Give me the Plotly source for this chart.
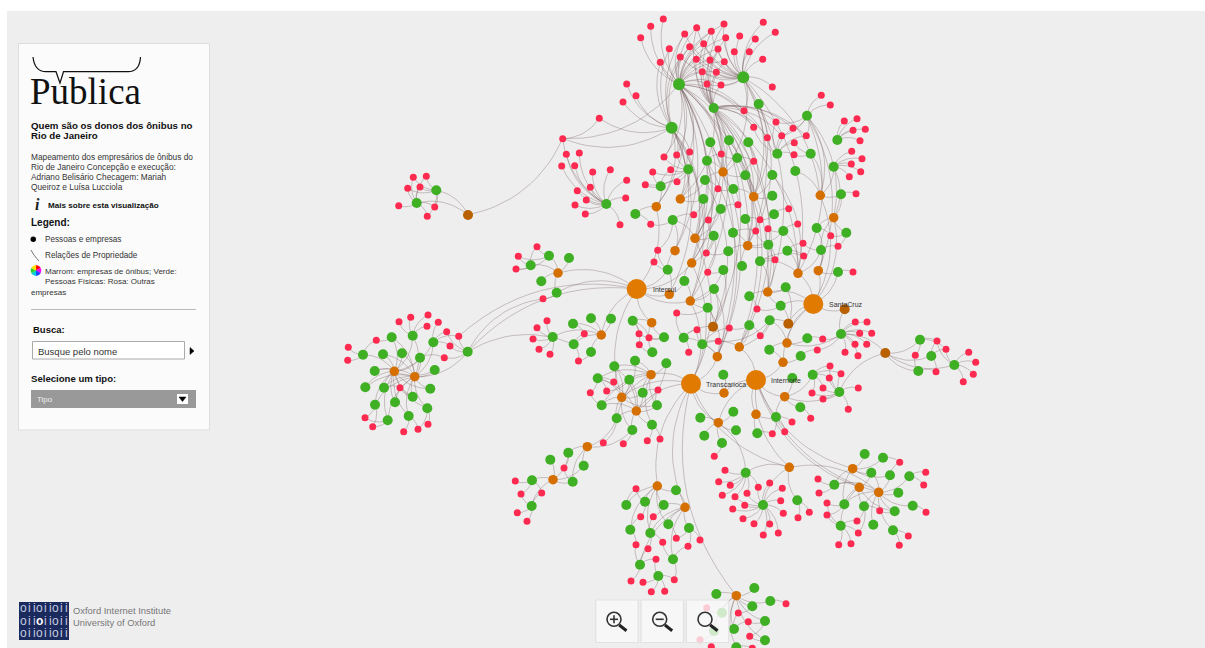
import math
import plotly.graph_objects as go

# ---------- nodes (positions) ----------
green_top = [(679,84.3),(743.3,77.3),(713.7,108),(758.7,104),(807,115.7),(671.7,127.7),(710.3,142.3),(729,140.3),(748.3,142.3),(777.3,153.7),
 (810.7,153.7),(837.3,140),(707,160.7),(737.3,158),(688.3,169.3),(745.3,175.3),(772.3,175),(795.3,171),(833.7,166.7),(705,180),
 (660.7,186.3),(733.3,189),(772.3,195.7),(841,194.3),(703.3,199),(606.3,204),(720.7,209)]
green_mid = [(635.3,214),(672.7,220),(745.3,219),(774,214.3),(713.7,235.7),(733,232.7),(783.3,231),(816.7,228),(846.3,232.7),(768.3,244.7),
 (728.3,251.3),(787.3,250.7),(821,250),(760,261.3),(742,266),(723.3,270),(667.7,269.7),(684.3,281),(838,272),(714,289),
 (785.7,287.3),(749.3,296.3),(780.7,305.7),(707.7,307.7),(769.7,320.3),(749.3,325.3),(632.7,320.7),(573,323.7),(591,318.3),(611,318.7),
 (552.7,337),(573.7,344.3),(591,352),(664,337.3),(683.7,337.7),(702.3,344.3),(807.3,338.3),(841,334),(652.3,352.3),(769.3,349.7),
 (800.7,356),(635,360.7),(666.3,363.3),(614.3,366.3),(597.7,378.3),(629.3,379.7),(642.7,392.7),(723.3,374.7),(792.3,378),(812.7,374.7),(839.3,392)]
green_west = [(436.3,190.3),(416.7,203),(549,255.7),(569,258),(530.7,265.3),(541.3,281.3),(556.7,292.7),(391.7,337.3),(412.7,335.7),(433.3,342.3),
 (363,354.7),(383,354.3),(402,353.3),(420,357.7),(467.7,351.7),(374.7,371),(434.7,370),(365.3,387.3),(384,387.7),(430.3,388.7),
 (412.7,396.7),(395,402.3),(375,404.7),(427.3,408.3),(408.7,416),(387.7,420.3),(722,612.7)]
green_south = [(601.7,405.3),(657,405.3),(616.7,418.3),(632.3,430),(652,424.7),(568.3,452.7),(550.3,459.7),(583.7,465.7),(532,480.3),(572.7,481.7),
 (531.7,506),(676,490.3),(626.3,505),(645,501.7),(663.7,505),(668.3,524.3),(630.3,529.7),(650.3,533),(689,528),(640,564.7),
 (673,559.3),(658.3,576),(700.3,417.7),(733.3,411.7),(736,430.3),(704.3,435.7),(722,443),(776,417),(757.3,433.3),(800.3,407.3),
 (745.7,472.7),(763,505),(797.3,500.3),(716.3,594),(754.3,588),(752.3,606.3),(770.3,601),(765,621),(734,629),(765,640.3),(736.3,647.3)]
green_east = [(834.3,484.7),(844.3,504.3),(840.7,525.7),(864.7,454),(883,457.7),(871.3,472.7),(890,475.3),(909.3,476.3),(898.3,492.7),(912.7,505.7),
 (864,506.3),(894.7,511.3),(873.3,524.7),(893,530.3),(920,339.7),(931.3,356),(918.3,371),(954.3,365),(714,631)]
big_green_ids = [1, 2, 6]

orange_nodes = [(723,172),(753.7,196.7),(820.3,195.3),(680.3,199),(656.3,206.7),(833.7,217.7),(695,238.3),(747.7,245.7),(675,250.7),(691.7,263),
 (798,273.3),(818.3,270.7),(558,273),(767.7,292),(669.3,294.3),(690.3,301),(651.7,322.7),(601.3,335),(739.3,347),(787,343),
 (717.3,356.7),(783,362.3),(651,374.7),(724,393),(784.7,396.7),(621.7,397.3),(394.3,371.3),(414.7,376.7),(636.3,411),(587.3,446.7),
 (553,479.7),(657.3,486),(685,507.3),(718.3,422.7),(756,414.3),(789.3,467.3),(736.3,595.7),(852.7,468.7),(859.3,487.3),(878.7,492.3)]
brown_nodes = [(713,326.7),(788.3,323.7),(844.7,309.3),(468,215),(885.3,353)]
big_nodes = [(636.7,289),(813.3,304),(691,383.7),(756,380)]
big_names = ["Intersul", "SantaCruz", "Transcarioca", "Internorte"]
big_label_x = [653, 829, 706, 771]
big_label_y = [289, 304, 384.5, 380.5]
loose_reds = {"ra": (562.7,138.7), "rb": (599.3,118.3), "rc": (458.7,336.3)}

# reds, grouped by the persons (green ids) that hold them
reds_top = [
 ((1,2,3), [(696.7,27.7),(711.3,31.3),(724,24),(725.7,37.7),(703.7,43.7),(718,49),(696.3,59.3),(710,60),(724.3,61.7),(702.3,71.7),(716.3,72.3),(707,84),(721,85)]),
 ((1,2,6), [(684.7,34),(689.7,46.7),(680.3,57)]),
 ((1,), [(663.3,19),(650.7,26.3),(640.7,37.7)]),
 ((1,6), [(669.3,48.7),(660.3,62.3)]),
 ((2,), [(739.7,36),(763.3,22.3),(775.3,32.3),(755.3,39),(734.3,51.7),(749.3,51.7),(762.7,59.3),(772.3,87)]),
 ((6,), [(626.7,84),(636,95.7),(623,102)]),
 ((3,2,1), [(744,110.7)]),
 ((5,10,3), [(776,122),(793,128.3),(806.3,135.7),(781.7,135.7)]),
 ((3,10,1), [(753.7,127.3),(767.3,137.7)]),
 ((10,11), [(794.3,142.7),(794,154.7)]),
 ((5,), [(821.3,95.3),(830.3,105)]),
 ((12,), [(844.3,121),(857,118.7),(853,130.3),(865.3,129.3),(860,140.7)]),
 ((19,), [(851.7,151.3),(862,158.7),(851.3,164),(860.7,171.7),(849.3,176.7)]),
 ((24,), [(856,193.7)]),
]
reds_left = [
 ((26,), [(566.3,154.3),(579.3,153),(561.7,166),(574.7,165.7),(592.7,172),(610.3,169.7),(590.3,187.3),(577.3,190.7),(586.3,200),(575,205),(585.3,214),(620,224.7),(626.7,180.3),(625.7,198)]),
 ((15,6,1), [(664,157),(676.7,155),(689.7,152)]),
 ((21,15), [(652.7,172),(670.7,169.7),(645.3,184.7),(677,181.7)]),
 ((13,14,1), [(721.3,154)]),
 ((14,16,3), [(753.7,161.3)]),
 ((20,22), [(718,188.7)]),
 ((22,27), [(738,204.7)]),
 ((31,), [(788.7,208.7)]),
 ((25,29), [(693.7,214.7)]),
 ((32,27), [(708.3,220)]),
 ((28,29), [(650.7,224.3)]),
 ((30,31), [(760,219.7)]),
]
reds_mid = [
 ((34,), [(797.7,224)]),
 ((34,37), [(768,228.7)]),
 ((33,37), [(755.7,231)]),
 ((35,36), [(830.7,235.7)]),
 ((39,40), [(803,243.3)]),
 ((36,40), [(838,246.3)]),
 ((39,41), [(803.7,256)]),
 ((37,41), [(775,259.7)]),
 ((44,29), [(657.7,250.3)]),
 ((32,38), [(706.3,253)]),
 ((44,), [(654,262)]),
 ((43,32), [(707.7,272.3)]),
 ((46,), [(853,272)]),
 ((50,49), [(757,309)]),
 ((51,62), [(676.7,313)]),
 ((62,63), [(697,329.7)]),
 ((53,63), [(729.3,328)]),
 ((52,53), [(760.3,335.7)]),
 ((63,52), [(718.3,341.3)]),
 ((62,), [(688.7,352.3)]),
 ((54,61), [(639,333.7),(649,337.7)]),
 ((66,54), [(639.3,344.7)]),
 ((58,), [(547,320.7),(537,327.7),(533,339),(539,349.3),(550,354.3)]),
 ((59,55), [(584.3,333.7)]),
 ((60,59), [(578.5,361)]),
 ((65,), [(855.3,322),(867,322),(859.7,333.3),(871.7,333.3),(855,344.3),(866.7,344.3),(845,352.3),(858,355.7)]),
 ((64,65), [(822.7,339)]),
 ((68,65), [(817.3,350)]),
 ((77,78), [(830,366),(841,373.7),(829.3,378),(823,388),(812,393)]),
 ((78,), [(823,399),(858.3,388),(848.3,409.3)]),
 ((85,93), [(543,298.7)]),
 ((81,83), [(537,246.7),(518.3,256.3),(516,269)]),
]
reds_west = [
 ((79,80), [(413.3,177.3),(426.3,176.3),(407.7,188.3),(420,187),(434.7,207),(427.3,216.3)]),
 ((80,), [(398.7,205.7)]),
 ((87,), [(428,315),(427,326.3),(410.7,317.3),(399,321.7)]),
 ((88,), [(438.3,322.3)]),
 ((88,93), [(446.7,331.7),(450,346)]),
 ((93,92), [(444.3,357.7)]),
 ((86,89), [(376.3,340.3)]),
 ((89,), [(348.3,347.3),(347.7,360.3)]),
 ((97,99), [(400,387.7)]),
 ((104,101), [(365,417.7),(372.7,426.7)]),
 ((103,), [(403.7,431.7)]),
 ((103,102), [(418,429.3)]),
 ((102,), [(428,424.3)]),
]
reds_south = [
 ((71,72), [(613.7,382)]),
 ((72,73), [(606.7,391)]),
 ((72,106), [(590.3,392.7)]),
 ((74,107), [(658,390)]),
 ((108,), [(603.3,442.7)]),
 ((109,), [(623.3,443.7)]),
 ((110,), [(647.3,440.7),(660,439)]),
 ((111,115), [(564,468)]),
 ((114,), [(515.3,481)]),
 ((114,116), [(521,494),(541.7,493)]),
 ((116,), [(517.3,512.7),(527,521.3)]),
 ((118,119), [(636,488.7)]),
 ((119,122), [(640.7,516.7)]),
 ((120,123), [(653.3,516.7)]),
 ((121,124), [(676.3,538.3)]),
 ((122,125), [(636,544.7)]),
 ((123,125), [(648,548.7)]),
 ((123,126), [(662.7,542.3)]),
 ((124,126), [(688,546.3)]),
 ((125,127), [(656,559.3)]),
 ((125,), [(631,581)]),
 ((127,), [(643,582.3),(651.3,591.7),(664.7,591.3)]),
 ((126,127), [(674.3,579.7)]),
 ((124,), [(700,540)]),
 ((142,), [(786,603.7)]),
 ((141,144), [(738.3,613)]),
 ((143,144), [(748.3,621.7)]),
 ((143,145), [(749.7,636.3)]),
 ((146,), [(711.3,646.7),(752.3,648.3)]),
 ((105,), [(706.7,607.7)]),
 ((165,), [(700,639.7)]),
 ((132,), [(714.3,456.3)]),
 ((133,134), [(772.3,433.7)]),
 ((133,), [(784.7,431.7),(792,422)]),
 ((135,), [(810.7,418.3)]),
]
reds_se = [
 ((136,), [(725,470.3),(718.7,481.7),(730.3,485.3),(722.3,495.3)]),
 ((136,137), [(735,496.7),(747,493.3),(758.3,487.3)]),
 ((137,), [(769.7,483),(782.3,488.3),(780.7,500.7),(732.7,509),(744.7,505.3),(743,518.7),(754,523.7),(769.7,524),(763.3,535),(778.3,533),(783.3,513.3)]),
 ((138,), [(798,517.7),(809.3,512.3)]),
 ((147,), [(818,479),(819,493)]),
 ((148,149), [(827,503),(827,515)]),
 ((149,157), [(857,521),(858.3,533)]),
 ((149,), [(838.7,544.7),(851,543.7)]),
 ((157,158), [(879.7,510.7)]),
 ((160,), [(908.3,536),(899.3,545.3)]),
 ((151,153), [(899.7,462.3)]),
 ((154,), [(925.7,472.3),(923.7,485)]),
 ((156,), [(926,512.3)]),
 ((161,162,164), [(937,341),(946,349.3)]),
 ((161,163), [(915.3,355.3)]),
 ((163,162), [(936,371.7)]),
 ((164,), [(968.7,352.3),(975.7,362.3),(973.3,374.3),(963.3,381.7)]),
]
red_groups = reds_top + reds_left + reds_mid + reds_west + reds_south + reds_se

# ownership: target <- sources
links_north = [
 ("ra","g1 g6 g26 rb"),("rb","g6"),("b4","ra g79 g80"),("rc","g88 g93"),
 ("o1","g13 g14 g16 g20 g22 g3 g1 g2"),("o2","g16 g17 g23 g22 g9 g2 g3 g1 g4"),("o3","g11 g19 g24 g18 g5 g2"),
 ("o4","g15 g20 g25 g6 g1 g3"),("o5","g21 g28 g6 g1"),("o6","g19 g35 g36 g24 g40 g5"),
 ("o7","g25 g27 g32 g29 g1 g3 g6 g7"),("o8","g30 g33 g34 g37 g38 g42 g3 g2 g1 g4 g8"),("o9","g44 g29 g6 g1"),
 ("o10","g45 g32 g6 g1 g3 g13"),("o11","g39 g34 g40 g41 g17 g3 g2 g5"),("o12","g35 g40 g46 g5"),
 ("o14","g48 g49 g50 g37 g41 g3 g1 g2"),("o15","g44 g45 g6"),("o16","g45 g47 g51 g43 g1 g6 g3"),
]
links_centre = [
 ("o13","g81 g82 g83 g84 g85"),("o17","g54 g61 g66"),("o18","g55 g56 g57 g58 g59 g60"),("o19","g52 g53 g63 g3 g9 g14"),
 ("o20","g52 g64 g67 g65"),("o21","g63 g62 g51 g47 g1 g7 g13"),("o22","g67 g68"),("o24","g75"),("o25","g76 g77 g78 g135 g133"),
 ("b1","g51 g62 g47 g43 g3 g20"),("b2","g48 g50 g52"),("b3","g65"),
 ("o23","g69 g70 g71 g72 g73 g74 g106 g107 g108 g110"),("o26","g69 g71 g72 g73 g74 g106 g107 g108 g109"),
 ("o29","g70 g71 g72 g73 g74 g106 g107 g108 g109 g110"),
]
links_outer = [
 ("o27","g86 g87 g88 g89 g90 g91 g92 g94 g95 g96 g97 g98 g99 g100 g101 g102 g103 g104"),
 ("o28","g86 g87 g88 g90 g91 g92 g93 g94 g95 g96 g97 g98 g99 g100 g101 g102 g103 g104"),
 ("g59","g93"),
 ("o30","g111 g113 g115 g108 g109"),("o31","g111 g112 g113 g114 g115 g116"),
 ("o32","g117 g118 g119 g120 g121 g122 g123"),("o33","g117 g120 g121 g124 g123 g126 g125"),
 ("o37","g139 g140 g141 g142 g143 g144 g145 g146 g105 g165"),
 ("o34","g128 g129 g130 g131 g132"),("o35","g133 g134"),("g136","o34"),
 ("o36","g136 g137 g138"),("o38","g147 g148 g150 g151 g152 g153"),
 ("o39","g147 g148 g149 g152 g157 g158"),("o40","g148 g152 g153 g154 g155 g156 g157 g158 g159 g160 g147 o36"),
 ("b5","g161 g162 g163 g164 g65 g78"),
 ("h1","o13 g85 g93 rc o15 o17 o18 o26 o10 o16 g44 o5"),("h2","o11 o12 b3 o14 o20 b2 o22 g50 g46 o3 o6"),
 ("h3","o26 o23 o24 o21 o34 o32 o33 o29 o37 o36 o16 o7 o10"),("h4","o35 o34 o25 o24 o36 o38 o39 o40 o19 o22"),
]
links = links_north + links_centre + links_outer

# ---------- node lookup ----------
greens = green_top + green_mid + green_west + green_south + green_east
pos = {f"g{i+1}": p for i, p in enumerate(greens)}
pos.update({f"o{i+1}": p for i, p in enumerate(orange_nodes)})
pos.update({f"b{i+1}": p for i, p in enumerate(brown_nodes)})
pos.update({f"h{i+1}": p for i, p in enumerate(big_nodes)})
pos.update(loose_reds)

edge_pairs = []
reds = list(loose_reds.values())
for hubs, pts in red_groups:
    for p in pts:
        reds.append(p)
        for h in hubs:
            edge_pairs.append((pos[f"g{h}"], p))
for target, sources in links:
    for s in sources.split():
        edge_pairs.append((pos[s], pos[target]))

EDGE = "rgba(112,84,88,0.33)"
fig = go.Figure()
for (x1, y1), (x2, y2) in edge_pairs:
    cx, cy = (x1 + x2) / 2 + (y2 - y1) / 4, (y1 + y2) / 2 + (x1 - x2) / 4
    ts = [i / 14 for i in range(15)]
    fig.add_trace(go.Scatter(
        x=[(1-t)**2*x1 + 2*(1-t)*t*cx + t*t*x2 for t in ts],
        y=[(1-t)**2*y1 + 2*(1-t)*t*cy + t*t*y2 for t in ts],
        mode="lines", line=dict(color=EDGE, width=1), hoverinfo="skip", showlegend=False))

def nodes(points, color, size):
    fig.add_trace(go.Scatter(x=[p[0] for p in points], y=[p[1] for p in points], mode="markers",
                             marker=dict(color=color, size=size, line=dict(width=0)),
                             hoverinfo="skip", showlegend=False))

nodes(reds, "#FF2A50", 7)
nodes([g for i, g in enumerate(greens) if i + 1 not in big_green_ids], "#3FAF24", 10)
nodes([greens[i - 1] for i in big_green_ids], "#3FAF24", 12)
nodes(orange_nodes, "#D46F00", 9.5)
nodes(brown_nodes, "#B96000", 10)
nodes(big_nodes, "#E07A00", 20)

# ---------- page furniture ----------
shapes = [dict(type="rect", x0=7, y0=11, x1=1205, y1=648, fillcolor="#EEEEEE", line_width=0, layer="below")]
ann = []

def rect(x0, y0, x1, y1, fill, line="rgba(0,0,0,0)", w=1):
    shapes.append(dict(type="rect", x0=x0, y0=y0, x1=x1, y1=y1, fillcolor=fill, line=dict(color=line, width=w)))

def path(d, color="#000", w=1.0, fill=None):
    s = dict(type="path", path=d, line=dict(color=color, width=w))
    if fill:
        s["fillcolor"] = fill
    shapes.append(s)

def note(x, y, text, size, color="#222", family="Liberation Sans", anchor="left"):
    ann.append(dict(x=x, y=y, text=text, showarrow=False, xanchor=anchor, yanchor="middle",
                    font=dict(size=size, color=color, family=family), borderpad=0, borderwidth=0))

for name, lx, ly in zip(big_names, big_label_x, big_label_y):
    note(lx, ly, name, 7, "#333")

rect(18.5, 43.5, 209.5, 430, "#FBFBFB", "#DDDDDD")
path("M33 57 C34 66,38 71.7,46 71.7 L56 71.7 L60 83 L63.5 71.7 L128 71.7 C136 71.7,140 66,140.5 57", "#111", 1.2)
note(30, 91, "Publica", 37, "#111", "Liberation Serif")
note(31, 125, "<b>Quem são os donos dos ônibus no</b>", 9.7, "#111")
note(31, 135, "<b>Rio de Janeiro</b>", 9.7, "#111")
for yy, t in zip([157, 167, 177, 187], ["Mapeamento dos empresários de ônibus do", "Rio de Janeiro Concepção e execução:",
                                        "Adriano Belisário Checagem: Mariah", "Queiroz e Luísa Lucciola"]):
    note(31, yy, t, 8.3, "#333")
note(35, 204, "<b><i>i</i></b>", 16, "#222", "Liberation Serif")
note(48, 205, "<b>Mais sobre esta visualização</b>", 8.1, "#111")
note(31, 222, "<b>Legend:</b>", 10, "#111")
shapes.append(dict(type="circle", x0=30.5, y0=236.5, x1=36, y1=242, fillcolor="#000", line_width=0))
note(45, 239.5, "Pessoas e empresas", 8.2, "#333")
path("M31 250 C33 254,36 258,39 261", "#555", 0.8)
note(45, 255.5, "Relações de Propriedade", 8.2, "#333")
wheel = ["#FF0000", "#FF00FF", "#2040FF", "#00D0E0", "#30D030", "#FFE000"]
for i, c in enumerate(wheel):
    a0, a1 = math.radians(i * 60 - 90), math.radians((i + 1) * 60 - 90)
    pts = [(36 + 5.2 * math.cos(a0 + (a1 - a0) * k / 4), 270.5 + 5.2 * math.sin(a0 + (a1 - a0) * k / 4)) for k in range(5)]
    path("M36 270.5 " + " ".join(f"L{x:.2f} {y:.2f}" for x, y in pts) + " Z", c, 0.2, c)
note(45, 271, "Marrom: empresas de ônibus; Verde:", 8, "#333")
note(45, 281, "Pessoas Físicas: Rosa: Outras", 8, "#333")
note(31, 292, "empresas", 8, "#333")
shapes.append(dict(type="line", x0=31, y0=309.5, x1=196, y1=309.5, line=dict(color="#BBBBBB", width=1)))
note(33, 329, "<b>Busca:</b>", 9.5, "#111")
rect(32.5, 341.5, 184.5, 359, "#FFFFFF", "#AAAAAA")
note(38, 351, "Busque pelo nome", 9.5, "#333")
path("M190 347.5 L194 351 L190 354.5 Z", "#000", 0.5, "#000")
note(31, 378, "<b>Selecione um tipo:</b>", 9.6, "#111")
rect(31, 390, 196, 408, "#999999")
note(37, 399.5, "Tipo", 8, "#EEEEEE")
rect(177, 394, 188, 404, "#FFFFFF")
path("M179 397 L186 397 L182.5 401.5 Z", "#000", 0.5, "#000")

# Oxford logo
rect(19, 602, 69, 640, "#1B2A5C")
logo_letters = ["o", "i", "i", "o", "i", "i", "o", "i", "i"]
logo_offsets = [23.5, 29.8, 34, 39.5, 45.8, 50, 55.5, 61.8, 66]
logo_rows = [608, 620.5, 633]
for row, yy in enumerate(logo_rows):
    for col, (ch, xx) in enumerate(zip(logo_letters, logo_offsets)):
        hi = row == 1 and col == 3
        note(xx, yy, f"<b>{ch}</b>" if hi else ch, 12, "#FFFFFF" if hi else "#C4CCE2", "Liberation Sans", "center")
note(73, 610, "Oxford Internet Institute", 9.4, "#777777")
note(73, 622, "University of Oxford", 9.4, "#777777")

# zoom buttons (translucent, the graph shows through)
for x0 in (595.7, 641, 686.3):
    rect(x0, 600, x0 + 42.5, 642.5, "rgba(250,250,250,0.78)", "#E2E2E2", 1.2)
for cx in (614, 659.7, 705):
    shapes.append(dict(type="circle", x0=cx - 7, y0=612.3, x1=cx + 7, y1=626.3, line=dict(color="#333333", width=1.6)))
    shapes.append(dict(type="line", x0=cx + 5.2, y0=625, x1=cx + 12.5, y1=630.7, line=dict(color="#222222", width=3)))
shapes.append(dict(type="line", x0=610, y0=619.3, x1=618, y1=619.3, line=dict(color="#333333", width=1.6)))
shapes.append(dict(type="line", x0=614, y0=615.3, x1=614, y1=623.3, line=dict(color="#333333", width=1.6)))
shapes.append(dict(type="line", x0=655.7, y0=619.3, x1=663.7, y1=619.3, line=dict(color="#333333", width=1.6)))

fig.update_layout(
    width=1205, height=648, margin=dict(l=0, r=0, t=0, b=0, pad=0), autosize=False,
    paper_bgcolor="#FFFFFF", plot_bgcolor="#FFFFFF", showlegend=False, dragmode=False,
    xaxis=dict(range=[0, 1205], visible=False, fixedrange=True),
    yaxis=dict(range=[648, 0], visible=False, fixedrange=True),
    shapes=shapes, annotations=ann,
)
fig.write_html("out.html", config={"displayModeBar": False},
               post_script="document.body.style.margin='0';document.body.style.overflow='hidden';")
